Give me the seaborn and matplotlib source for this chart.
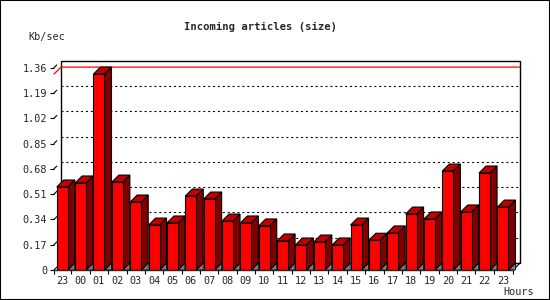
import numpy as np
import pandas as pd
import matplotlib
matplotlib.use("Agg")
import matplotlib.pyplot as plt
from matplotlib.patches import Polygon, Rectangle
from matplotlib.transforms import ScaledTranslation
import seaborn as sns

hours = ["23", "00", "01", "02", "03", "04", "05", "06", "07", "08", "09", "10",
         "11", "12", "13", "14", "15", "16", "17", "18", "19", "20", "21", "22", "23"]
kb_per_sec = [0.558, 0.585, 1.317, 0.591, 0.457, 0.302, 0.316, 0.497, 0.477, 0.329,
              0.316, 0.296, 0.195, 0.168, 0.188, 0.168, 0.302, 0.200, 0.249, 0.376,
              0.343, 0.665, 0.390, 0.652, 0.423]
ytick_values = [0, 0.17, 0.34, 0.51, 0.68, 0.85, 1.02, 1.19, 1.36]
ytick_labels = ["0", "0.17", "0.34", "0.51", "0.68", "0.85", "1.02", "1.19", "1.36"]

sns.set_style("white")
plt.rcParams["font.family"] = ["DejaVu Sans Mono"]

W, H, DPI = 550, 300, 100
fig = plt.figure(figsize=(W / DPI, H / DPI), dpi=DPI)
ax = fig.add_axes([54 / W, 30 / H, (513 - 54) / W, (270 - 67.7) / H])

df = pd.DataFrame({"pos": np.arange(len(hours)), "value": kb_per_sec})
sns.barplot(data=df, x="pos", y="value", ax=ax, color="#FF0000", saturation=1,
            edgecolor="black", linewidth=0.8, width=0.6, native_scale=True, zorder=3)
bars = list(ax.patches)

x0, x1 = -0.45, len(hours) - 0.45
ymax = ytick_values[-1]
ax.set_xlim(x0, x1)
ax.set_ylim(0, ymax)

# depth of the pseudo-3D effect in pixels -> data units
depth_px = 7
ax_w_px = ax.get_position().width * W
ax_h_px = ax.get_position().height * H
dx = depth_px * (x1 - x0) / ax_w_px
dy = depth_px * ymax / ax_h_px
off = ScaledTranslation(depth_px / DPI, depth_px / DPI, fig.dpi_scale_trans)

# back wall
ax.add_patch(Rectangle((0, 0), 1, 1, transform=ax.transAxes + off, facecolor="white",
                       edgecolor="black", linewidth=1, zorder=0, clip_on=False))
# dotted grid on back wall
for v in ytick_values[1:-1]:
    ax.plot([x0 + dx, x1 + dx], [v + dy, v + dy], color="black", linewidth=0.8,
            linestyle=(0, (1.8, 2.6)), zorder=1, clip_on=False)
# maximum line (red)
vmax = max(kb_per_sec)
ax.plot([x0, x0 + dx, x1 + dx], [vmax, vmax + dy, vmax + dy], color="#FF0000",
        linewidth=0.9, zorder=1.5, clip_on=False)
# right floor edge
ax.plot([x1, x1 + dx], [0, dy], color="black", linewidth=0.9, zorder=2, clip_on=False)

# 3D faces for the bars
for p in bars:
    bx = p.get_x()
    bw = p.get_width()
    h = p.get_height()
    xr = bx + bw
    side = Polygon([(xr, 0), (xr, h), (xr + dx, h + dy), (xr + dx, dy)], closed=True,
                   facecolor="#800000", edgecolor="black", linewidth=0.8, zorder=2.5,
                   clip_on=False)
    top = Polygon([(bx, h), (xr, h), (xr + dx, h + dy), (bx + dx, h + dy)], closed=True,
                  facecolor="#C00000", edgecolor="black", linewidth=0.8, zorder=2.5,
                  clip_on=False)
    shadow = Polygon([(xr, 0), (xr + dx, dy), (xr + dx, 0)], closed=True,
                     facecolor="#808080", edgecolor="black", linewidth=0.6, zorder=2.4,
                     clip_on=False)
    ax.add_patch(shadow)
    ax.add_patch(side)
    ax.add_patch(top)

# small slanted tick stubs on the y axis
for v in ytick_values:
    ax.plot([x0, x0 + dx * 0.4], [v, v + dy * 0.4], color="black", linewidth=0.8,
            zorder=2, clip_on=False)

for s in ["top", "right", "left"]:
    ax.spines[s].set_visible(False)
ax.spines["bottom"].set_linewidth(1)
ax.spines["bottom"].set_zorder(4)

ax.set_yticks(ytick_values)
ax.set_yticklabels(ytick_labels)
ax.set_xticks(np.arange(len(hours)))
ax.set_xticklabels(hours)
ax.set_xticks(list(np.arange(len(hours) - 1) + 0.5) + [x0, x1], minor=True)
ax.tick_params(axis="x", which="major", length=0, pad=4, labelsize=7.3)
ax.tick_params(axis="x", which="minor", length=3, width=0.8, direction="out",
               bottom=True, color="black")
ax.tick_params(axis="y", which="major", length=3, width=0.8, direction="out",
               left=True, pad=2, labelsize=7.3, color="black")
ax.set_xlabel("")
ax.set_ylabel("")

fig.text(261 / W, 1 - 27 / H, "Incoming articles (size)", ha="center", va="center",
         fontsize=7.6, fontweight="bold")
fig.text(28 / W, 1 - 37 / H, "Kb/sec", ha="left", va="center", fontsize=7.3)
fig.text(534 / W, 1 - 292 / H, "Hours", ha="right", va="center", fontsize=7.3)

fig.add_artist(Rectangle((0, 0), 1, 1, transform=fig.transFigure, fill=False,
                         edgecolor="black", linewidth=1.5))

fig.savefig("out.png", dpi=DPI, facecolor="white")
